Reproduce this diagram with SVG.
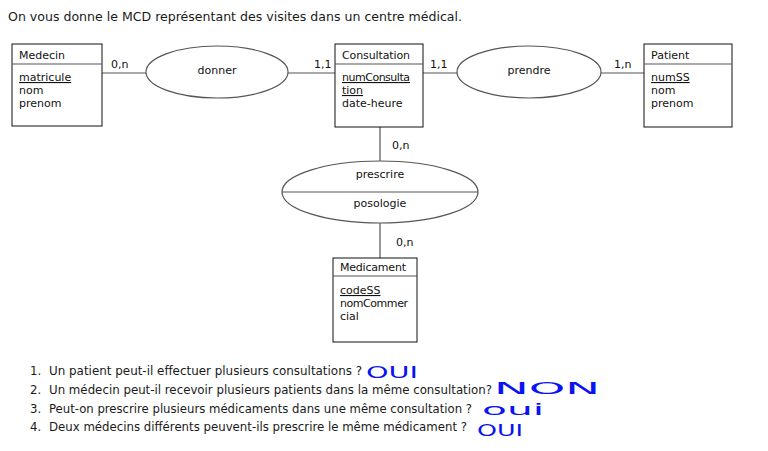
<svg xmlns="http://www.w3.org/2000/svg" width="768" height="451" viewBox="0 0 768 451">
<style>
.t{font-family:"DejaVu Sans Condensed","DejaVu Sans",sans-serif;font-size:13px;fill:#1a1a1a}
.d{font-family:"DejaVu Sans",sans-serif;font-size:11px;fill:#111}
.c{text-anchor:middle}
.u{text-decoration:underline}
.box{fill:#fff;stroke:#111;stroke-width:1}
.ell{fill:#fff;stroke:#555;stroke-width:1.2}
.ln{stroke:#555;stroke-width:1.2;fill:none}
.hw{font-family:"DejaVu Sans",sans-serif;font-size:16px;fill:#0a14f0}
</style>
<rect width="768" height="451" fill="#fff"/>
<text class="t" x="8" y="21" textLength="454" lengthAdjust="spacingAndGlyphs">On vous donne le MCD représentant des visites dans un centre médical.</text>

<g id="connectors">
<line class="ln" x1="102" y1="73" x2="146" y2="73"/>
<line class="ln" x1="288" y1="73" x2="335" y2="73"/>
<line class="ln" x1="423" y1="73" x2="457" y2="73"/>
<line class="ln" x1="601" y1="73" x2="644" y2="73"/>
<line class="ln" x1="380" y1="127" x2="380" y2="161"/>
<line class="ln" x1="380" y1="223" x2="380" y2="258"/>
<text class="d" x="111" y="68">0,n</text>
<text class="d" x="314" y="68">1,1</text>
<text class="d" x="430" y="68">1,1</text>
<text class="d" x="614" y="68">1,n</text>
<text class="d" x="392" y="149">0,n</text>
<text class="d" x="396" y="246">0,n</text>
</g>

<g id="medecin">
<rect class="box" x="12" y="44" width="90" height="82"/>
<line class="ln" x1="12" y1="64" x2="102" y2="64" stroke="#111"/>
<text class="d" x="19" y="59">Medecin</text>
<text class="d u" x="19" y="81">matricule</text>
<text class="d" x="19" y="94">nom</text>
<text class="d" x="19" y="107">prenom</text>
</g>

<g id="donner">
<ellipse class="ell" cx="217" cy="72" rx="71" ry="26"/>
<text class="d c" x="217" y="74">donner</text>
</g>

<g id="consultation">
<rect class="box" x="335" y="44" width="88" height="83"/>
<line class="ln" x1="335" y1="64" x2="423" y2="64" stroke="#111"/>
<text class="d" x="342" y="59" textLength="68">Consultation</text>
<text class="d u" x="342" y="81" textLength="68">numConsulta</text>
<text class="d u" x="342" y="94">tion</text>
<text class="d" x="342" y="107">date-heure</text>
</g>

<g id="prendre">
<ellipse class="ell" cx="529" cy="72" rx="72" ry="26"/>
<text class="d c" x="529" y="74">prendre</text>
</g>

<g id="patient">
<rect class="box" x="644" y="44" width="88" height="83"/>
<line class="ln" x1="644" y1="64" x2="732" y2="64" stroke="#111"/>
<text class="d" x="651" y="59">Patient</text>
<text class="d u" x="651" y="81">numSS</text>
<text class="d" x="651" y="94">nom</text>
<text class="d" x="651" y="107">prenom</text>
</g>

<g id="prescrire">
<ellipse class="ell" cx="380" cy="192" rx="98" ry="31"/>
<line class="ln" x1="282" y1="192" x2="478" y2="192" stroke="#222"/>
<text class="d c" x="380" y="178">prescrire</text>
<text class="d c" x="380" y="207">posologie</text>
</g>

<g id="medicament">
<rect class="box" x="333" y="258" width="84" height="84"/>
<line class="ln" x1="333" y1="276" x2="417" y2="276" stroke="#111"/>
<text class="d" x="340" y="271" textLength="66">Medicament</text>
<text class="d u" x="340" y="294">codeSS</text>
<text class="d" x="340" y="307" textLength="68">nomCommer</text>
<text class="d" x="340" y="320">cial</text>
</g>

<g id="questions">
<text class="t" x="30" y="375">1.</text>
<text class="t" x="49" y="375" textLength="313" lengthAdjust="spacingAndGlyphs">Un patient peut-il effectuer plusieurs consultations ?</text>
<text class="t" x="30" y="394">2.</text>
<text class="t" x="49" y="394" textLength="443" lengthAdjust="spacingAndGlyphs">Un médecin peut-il recevoir plusieurs patients dans la même consultation?</text>
<text class="t" x="30" y="413">3.</text>
<text class="t" x="49" y="413" textLength="423" lengthAdjust="spacingAndGlyphs">Peut-on prescrire plusieurs médicaments dans une même consultation ?</text>
<text class="t" x="30" y="431">4.</text>
<text class="t" x="49" y="431" textLength="418" lengthAdjust="spacingAndGlyphs">Deux médecins différents peuvent-ils prescrire le même médicament ?</text>
</g>

<g id="answers">
<text class="hw" x="366" y="378" textLength="52" lengthAdjust="spacingAndGlyphs">OUI</text>
<text class="hw" x="494" y="394" textLength="106" lengthAdjust="spacingAndGlyphs">NON</text>
<text class="hw" x="482" y="415" textLength="62" lengthAdjust="spacingAndGlyphs">oui</text>
<text class="hw" x="477" y="436" textLength="46" lengthAdjust="spacingAndGlyphs">OUI</text>
</g>
</svg>
